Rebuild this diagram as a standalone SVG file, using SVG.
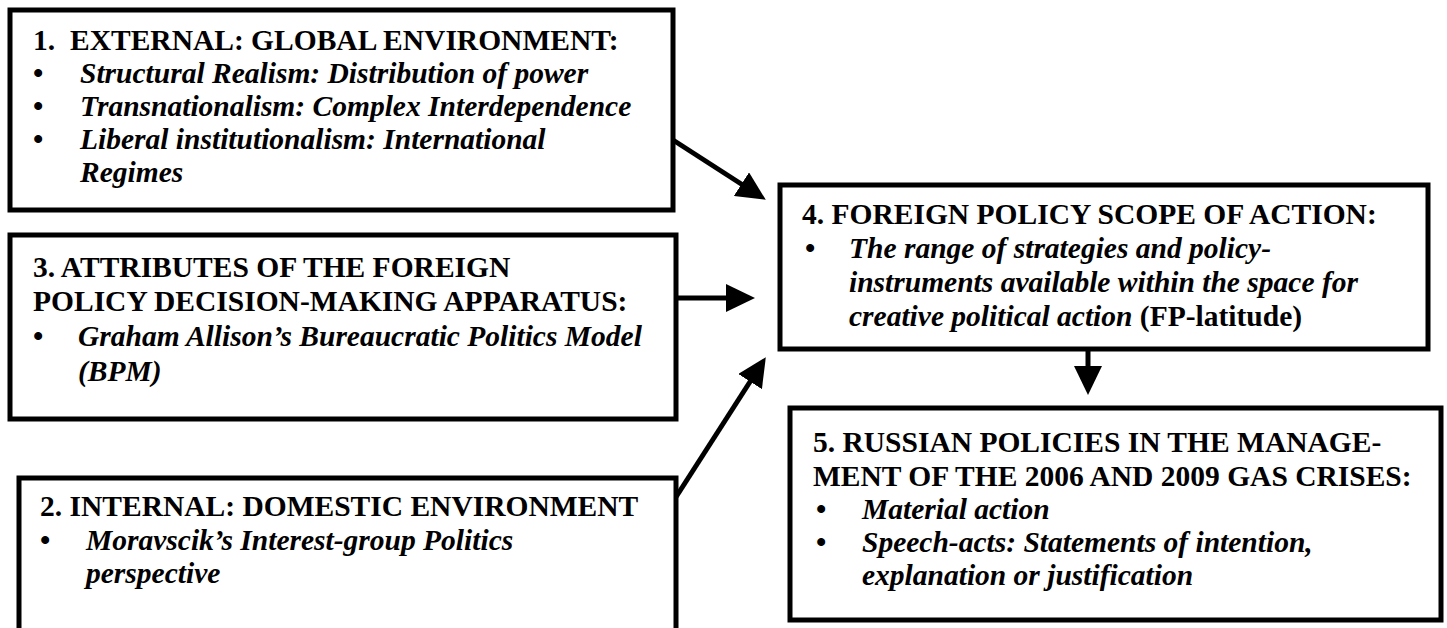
<svg xmlns="http://www.w3.org/2000/svg" width="1447" height="628" viewBox="0 0 1447 628">
<style>
.box{fill:#fff;stroke:#000;stroke-width:5}
text{font-family:"Liberation Serif","Times New Roman",serif;font-size:29.5px;font-weight:bold;fill:#000}
.i{font-style:italic}
.con line{stroke:#000;stroke-width:5;marker-end:url(#ah)}
</style>
<defs>
<marker id="ah" markerUnits="userSpaceOnUse" markerWidth="30" markerHeight="28" refX="9" refY="14" orient="auto">
<path d="M0,0 L29,14 L0,28 Z" fill="#000"/>
</marker>
</defs>
<rect width="1447" height="628" fill="#fff"/>
<g id="node1">
<rect class="box" x="10" y="10" width="663" height="200"/>
<text x="33" y="50">1.<tspan x="70">EXTERNAL: GLOBAL ENVIRONMENT:</tspan></text>
<text x="33" y="83">•</text><text class="i" x="80" y="83">Structural Realism: Distribution of power</text>
<text x="33" y="116">•</text><text class="i" x="80" y="116">Transnationalism: Complex Interdependence</text>
<text x="33" y="149">•</text><text class="i" x="80" y="149">Liberal institutionalism: International</text>
<text class="i" x="80" y="182">Regimes</text>
</g>
<g id="node3">
<rect class="box" x="10" y="235" width="666" height="184"/>
<text x="33" y="277">3. ATTRIBUTES OF THE FOREIGN</text>
<text x="33" y="311">POLICY DECISION-MAKING APPARATUS:</text>
<text x="33" y="346">•</text><text class="i" x="78" y="346">Graham Allison’s Bureaucratic Politics Model</text>
<text class="i" x="78" y="381">(BPM)</text>
</g>
<g id="node2">
<rect class="box" x="19" y="478" width="657" height="170"/>
<text x="40" y="516">2. INTERNAL: DOMESTIC ENVIRONMENT</text>
<text x="40" y="550">•</text><text class="i" x="86" y="550">Moravscik’s Interest-group Politics</text>
<text class="i" x="86" y="583">perspective</text>
</g>
<g id="node4">
<rect class="box" x="780" y="185" width="648" height="164"/>
<text x="802" y="224">4. FOREIGN POLICY SCOPE OF ACTION:</text>
<text x="805" y="258">•</text><text class="i" x="849" y="258">The range of strategies and policy-</text>
<text class="i" x="849" y="292">instruments available within the space for</text>
<text x="849" y="326"><tspan class="i">creative political action</tspan> (FP-latitude)</text>
</g>
<g id="node5">
<rect class="box" x="790" y="408" width="651" height="212"/>
<text x="813" y="452">5. RUSSIAN POLICIES IN THE MANAGE-</text>
<text x="813" y="486">MENT OF THE 2006 AND 2009 GAS CRISES:</text>
<text x="816" y="519">•</text><text class="i" x="862" y="519">Material action</text>
<text x="816" y="552">•</text><text class="i" x="862" y="552">Speech-acts: Statements of intention,</text>
<text class="i" x="862" y="585">explanation or justification</text>
</g>
<g id="connectors" class="con">
<line x1="673" y1="140" x2="749" y2="189"/>
<line x1="676" y1="298" x2="735" y2="298"/>
<line x1="676" y1="497" x2="755" y2="374"/>
<line x1="1088" y1="349" x2="1088" y2="375"/>
</g>
</svg>
